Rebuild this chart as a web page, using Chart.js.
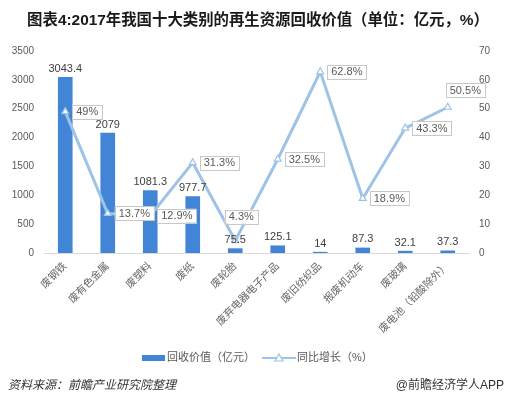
<!DOCTYPE html>
<html>
<head>
<meta charset="utf-8">
<script src="https://cdn.jsdelivr.net/npm/chart.js@4.4.0/dist/chart.umd.min.js"></script>
<style>
    body { margin: 0; background: #fff; }
    #wrap { position: relative; width: 516px; height: 399px; overflow: hidden; }
    #chart { position: absolute; left: 0; top: 0; }
    #title {
        position: absolute; top: 7px; left: 0; width: 516px; text-align: center;
        font: bold 15.4px "Liberation Sans", "Noto Sans CJK SC", sans-serif; color: #1a1a1a;
    }
    .foot { position: absolute; top: 375px; font-size: 12px; color: #333;
        font-family: "Liberation Sans", "Noto Sans CJK SC", sans-serif; }
    #src { left: 8px; font-style: italic; }
    #app { right: 12px; }
</style>
</head>
<body>
<div id="wrap">
    <canvas id="chart" width="516" height="399"></canvas>
    <div id="title">图表4:2017年我国十大类别的再生资源回收价值（单位：亿元，%）</div>
    <div class="foot" id="src">资料来源：前瞻产业研究院整理</div>
    <div class="foot" id="app">@前瞻经济学人APP</div>
</div>
<script>
// Data dari gambar
const categories = ['废钢铁', '废有色金属', '废塑料', '废纸', '废轮胎', '废弃电器电子产品', '废旧纺织品', '报废机动车', '废玻璃', '废电池（铅酸除外）'];
const recoveryValue = [3043.4, 2079, 1081.3, 977.7, 75.5, 125.1, 14, 87.3, 32.1, 37.3];
const growthRate = [49, 13.7, 12.9, 31.3, 4.3, 32.5, 62.8, 18.9, 43.3, 50.5];
const leftTicks = [0, 500, 1000, 1500, 2000, 2500, 3000, 3500];
const rightTicks = [0, 10, 20, 30, 40, 50, 60, 70];
const seriesNames = ['回收价值（亿元）', '同比增长（%）'];

// Warna & font
const barColor = '#4285d6';
const lineColor = '#9dc3e6';
const tickColor = '#595959';
const fontFamily = '"Liberation Sans", "Noto Sans CJK SC", sans-serif';

// Posisi label persentase (default: kanan titik)
const labelPlacement = ['right', 'right', 'right', 'right', 'above', 'right', 'right', 'right', 'right', 'aboveRight'];

const labelPlugin = {
    id: 'valueLabels',
    afterDatasetsDraw(chart) {
        const ctx = chart.ctx;
        ctx.save();
        ctx.font = '11px ' + fontFamily;

        // label batang (dataset index 1)
        ctx.fillStyle = '#404040';
        ctx.textAlign = 'center';
        ctx.textBaseline = 'bottom';
        chart.getDatasetMeta(1).data.forEach((bar, i) => {
            ctx.fillText(String(recoveryValue[i]), bar.x, bar.y - 3);
        });

        // label garis dalam kotak (dataset index 0)
        ctx.textAlign = 'left';
        ctx.textBaseline = 'middle';
        chart.getDatasetMeta(0).data.forEach((pt, i) => {
            const txt = growthRate[i] + '%';
            const w = ctx.measureText(txt).width + 8;
            const h = 14;
            let bx = pt.x + 7, by = pt.y - h / 2;
            if (labelPlacement[i] === 'above') { bx = pt.x - w / 2 + 6; by = pt.y - 31; }
            if (labelPlacement[i] === 'aboveRight') { bx = pt.x - 2; by = pt.y - 24; }
            ctx.fillStyle = '#fff';
            ctx.fillRect(bx, by, w, h);
            ctx.strokeStyle = '#c8c8c8';
            ctx.lineWidth = 1;
            ctx.strokeRect(Math.round(bx) + 0.5, Math.round(by) + 0.5, Math.round(w), h);
            ctx.fillStyle = tickColor;
            ctx.fillText(txt, bx + 4, by + h / 2 + 0.5);
        });
        ctx.restore();
    },
    afterDraw(chart) {
        // legenda manual
        const ctx = chart.ctx;
        const y = 358;
        ctx.save();
        ctx.font = '11px ' + fontFamily;
        ctx.textBaseline = 'middle';
        ctx.fillStyle = barColor;
        ctx.fillRect(142, y - 3, 23, 6);
        ctx.fillStyle = tickColor;
        ctx.fillText(seriesNames[0], 167, y);
        ctx.strokeStyle = lineColor;
        ctx.lineWidth = 2;
        ctx.beginPath(); ctx.moveTo(262, y); ctx.lineTo(296, y); ctx.stroke();
        ctx.fillStyle = '#fff';
        ctx.lineWidth = 1.2;
        ctx.beginPath();
        ctx.moveTo(279, y - 4); ctx.lineTo(283, y + 3); ctx.lineTo(275, y + 3); ctx.closePath();
        ctx.fill(); ctx.stroke();
        ctx.fillStyle = tickColor;
        ctx.fillText(seriesNames[1], 297, y);
        ctx.restore();
    }
};

new Chart(document.getElementById('chart'), {
    type: 'bar',
    data: {
        labels: categories,
        datasets: [{
            type: 'line',
            label: seriesNames[1],
            data: growthRate,
            yAxisID: 'y1',
            borderColor: lineColor,
            borderWidth: 3,
            tension: 0,
            pointStyle: 'triangle',
            pointRadius: 4,
            pointBackgroundColor: '#fff',
            pointBorderColor: lineColor,
            pointBorderWidth: 1.2,
            order: 1
        }, {
            type: 'bar',
            label: seriesNames[0],
            data: recoveryValue,
            yAxisID: 'y',
            backgroundColor: barColor,
            barThickness: 14,
            order: 2
        }]
    },
    options: {
        responsive: false,
        animation: false,
        layout: { padding: { top: 51, left: 0, right: 0, bottom: 0 } },
        plugins: { legend: { display: false }, tooltip: { enabled: false } },
        scales: {
            x: {
                grid: { display: false, drawTicks: false },
                border: { color: '#d9d9d9' },
                ticks: { color: '#666', font: { size: 10.5, family: fontFamily }, minRotation: 45, maxRotation: 45, padding: 7, autoSkip: false },
                afterFit: s => { s.height = 146; }
            },
            y: {
                position: 'left',
                min: 0, max: 3500,
                grid: { display: false, drawTicks: false },
                border: { display: false },
                ticks: { color: tickColor, font: { size: 10, family: fontFamily }, padding: 10, callback: v => String(v) },
                afterBuildTicks: s => { s.ticks = leftTicks.map(v => ({ value: v })); },
                afterFit: s => { s.width = 44; }
            },
            y1: {
                position: 'right',
                min: 0, max: 70,
                grid: { display: false, drawTicks: false },
                border: { display: false },
                ticks: { color: tickColor, font: { size: 10, family: fontFamily }, padding: 10, callback: v => String(v) },
                afterBuildTicks: s => { s.ticks = rightTicks.map(v => ({ value: v })); },
                afterFit: s => { s.width = 47; }
            }
        }
    },
    plugins: [labelPlugin]
});
</script>
</body>
</html>
